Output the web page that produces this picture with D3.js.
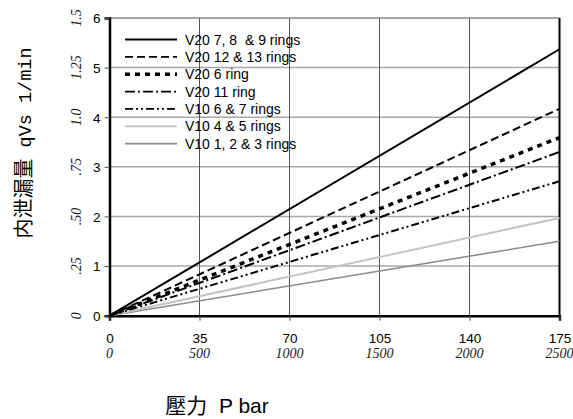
<!DOCTYPE html>
<html><head><meta charset="utf-8">
<script src="https://cdn.jsdelivr.net/npm/d3@7"></script>
<style>body{margin:0;background:#fff}</style>
</head><body>
<svg id="c" width="573" height="419"></svg>
<script>
const seriesNames = ["V20 7, 8  & 9 rings","V20 12 & 13 rings","V20 6 ring","V20 11 ring","V10 6 & 7 rings","V10 4 & 5 rings","V10 1, 2 & 3 rings"];
const pressures = [0, 175];
const endValues = [5.37, 4.17, 3.59, 3.30, 2.71, 1.97, 1.50];
const xTicks = [0,35,70,105,140,175];
const xTicksPsi = ["0","500","1000","1500","2000","2500"];
const yTicks = [0,1,2,3,4,5,6];
const yTicksGpm = ["0",".25",".50",".75","1.0","1.25","1.5"];
const styles = [
  {c:"#000", w:2, d:null},
  {c:"#000", w:2, d:"8,4"},
  {c:"#000", w:3.5, d:"5,5"},
  {c:"#000", w:2, d:"10,3,2,3"},
  {c:"#000", w:2, d:"8,3,2,3,2,3"},
  {c:"#c4c4c4", w:2, d:null},
  {c:"#8c8c8c", w:1.6, d:null}
];
const svg = d3.select("#c");
const L=109.5,R=559.5,T=18,B=315.7;
const x = d3.scaleLinear().domain([0,175]).range([L,R]);
const y = d3.scaleLinear().domain([0,6]).range([B,T]);

// grid
svg.append("g").selectAll("line").data(yTicks.slice(1,6)).join("line")
  .attr("x1",L).attr("x2",R).attr("y1",d=>y(d)).attr("y2",d=>y(d))
  .attr("stroke","#a8a8a8").attr("stroke-width",1.5);
svg.append("g").selectAll("line").data(xTicks.slice(1,5)).join("line")
  .attr("y1",T).attr("y2",B).attr("x1",d=>x(d)).attr("x2",d=>x(d))
  .attr("stroke","#555").attr("stroke-width",1);
// top border
svg.append("line").attr("x1",L).attr("x2",R).attr("y1",T).attr("y2",T).attr("stroke","#888").attr("stroke-width",1.5);
svg.append("line").attr("x1",R).attr("x2",R).attr("y1",T).attr("y2",B).attr("stroke","#000").attr("stroke-width",2);

// axes
const yAxis = d3.axisLeft(y).tickValues(yTicks).tickSize(5).tickFormat(d3.format("d"));
const gy = svg.append("g").attr("transform",`translate(${L},0)`).call(yAxis);
gy.select(".domain").attr("stroke-width",2.5);
gy.selectAll(".tick line").attr("stroke","#555");
gy.selectAll("text").attr("font-family","Liberation Sans, Arial").attr("font-size",13.5).attr("x",-9).attr("dy","0.36em").attr("fill","#000");

const xAxis = d3.axisBottom(x).tickValues(xTicks).tickSize(5).tickFormat(d3.format("d"));
const gx = svg.append("g").attr("transform",`translate(0,${B})`).call(xAxis);
gx.select(".domain").attr("stroke-width",2.5);
gx.selectAll(".tick line").attr("stroke","#555");
gx.selectAll("text").attr("font-family","Liberation Sans, Arial").attr("font-size",13.5).attr("y",27.3).attr("dy",0).attr("fill","#000");

// secondary labels
svg.append("g").selectAll("text").data(xTicks).join("text")
  .attr("x",d=>x(d)).attr("y",358).attr("text-anchor","middle")
  .attr("font-family","Liberation Serif, Times New Roman").attr("font-style","italic").attr("font-size",14).attr("fill","#222")
  .text((d,i)=>xTicksPsi[i]);
svg.append("g").selectAll("text").data(yTicks).join("text")
  .attr("transform",d=>`translate(81,${y(d)}) rotate(-90)`)
  .attr("text-anchor","middle")
  .attr("font-family","Liberation Serif, Times New Roman").attr("font-style","italic").attr("font-size",14).attr("fill","#222")
  .text((d,i)=>yTicksGpm[i]);

// lines
const line = d3.line().x(d=>x(d[0])).y(d=>y(d[1]));
const order = [6,5,4,3,2,1,0];
order.forEach(i=>{
  const pts = pressures.map(p=>[p, endValues[i]*p/175]);
  svg.append("path").attr("d",line(pts)).attr("fill","none")
    .attr("stroke",styles[i].c).attr("stroke-width",styles[i].w)
    .attr("stroke-dasharray",styles[i].d);
});

// legend
const lg = svg.append("g");
seriesNames.forEach((n,i)=>{
  const yy = 39.5 + i*17.35;
  lg.append("line").attr("x1",125).attr("x2",177).attr("y1",yy).attr("y2",yy)
    .attr("stroke",styles[i].c).attr("stroke-width",i==2?3.5:1.8)
    .attr("stroke-dasharray",styles[i].d);
  lg.append("text").attr("x",185).attr("y",yy).attr("dy","0.36em")
    .attr("xml:space","preserve").style("white-space","pre")
    .attr("font-family","Liberation Sans, Arial").attr("font-size",14).attr("fill","#000")
    .text(n);
});

// titles
const yt = svg.append("text").attr("transform","translate(31,143) rotate(-90)")
  .attr("text-anchor","middle").attr("fill","#000").style("white-space","pre");
yt.append("tspan").attr("font-family","Noto Sans CJK SC").attr("font-size",20).attr("fill","#000").text("内泄漏量");
yt.append("tspan").attr("font-family","Liberation Mono").attr("font-size",18.5).attr("fill","#000").text(" qVs 1/min");

const xt = svg.append("text").attr("x",217).attr("y",413).attr("text-anchor","middle").attr("fill","#000").style("white-space","pre");
xt.append("tspan").attr("font-family","Noto Sans CJK TC").attr("font-size",21).attr("fill","#000").text("壓力");
xt.append("tspan").attr("font-family","Liberation Sans, Arial").attr("font-size",21).attr("fill","#000").text("  P bar");
</script>
</body></html>
